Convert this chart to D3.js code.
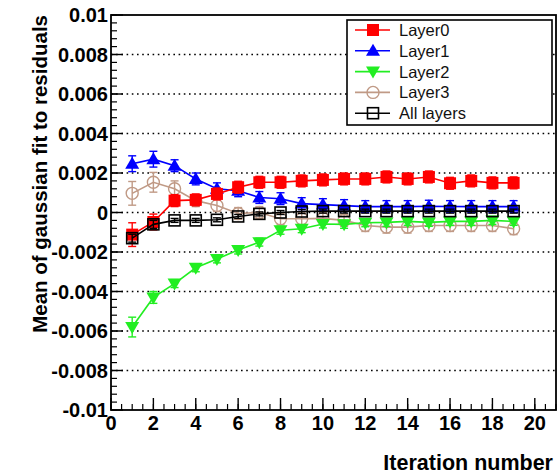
<!DOCTYPE html>
<html>
<head>
<meta charset="utf-8">
<script src="https://cdn.jsdelivr.net/npm/d3@7"></script>
<style>
  body { margin: 0; background: #fff; }
  text { font-family: "Liberation Sans", Arial, sans-serif; }
</style>
</head>
<body>
<svg id="chart" width="560" height="474"></svg>
<script>
// iterations
const iterations = [1,2,3,4,5,6,7,8,9,10,11,12,13,14,15,16,17,18,19];

// mean values per layer
const layer0 = [-0.00112,-0.00048,0.0006,0.00064,0.00094,0.00128,0.00153,0.00153,0.0016,0.00165,0.0017,0.0017,0.0018,0.0017,0.0018,0.00148,0.0016,0.0015,0.0015];
const layer1 = [0.00247,0.0027,0.00237,0.0017,0.0012,0.0011,0.00076,0.0007,0.00045,0.0004,0.00035,0.0003,0.0003,0.0003,0.00032,0.0003,0.0003,0.0003,0.0003];
const layer2 = [-0.0058,-0.0043,-0.0036,-0.0028,-0.00235,-0.0019,-0.0015,-0.0009,-0.00082,-0.00058,-0.0006,-0.00052,-0.0005,-0.00045,-0.0005,-0.00045,-0.00045,-0.0004,-0.00045];
const layer3 = [0.00097,0.00153,0.0012,0.0006,0.00035,-0.00005,0.0,-0.00032,-0.00032,-0.0003,-0.0004,-0.00066,-0.00074,-0.00074,-0.00066,-0.00066,-0.00066,-0.00066,-0.00082];
const allLayers = [-0.0013,-0.0006,-0.0004,-0.0004,-0.00037,-0.0002,-0.00007,0.0,0.00005,0.00007,0.00007,0.00007,0.00007,0.00007,0.00007,0.00007,0.00007,0.00007,0.00007];

// error bars (half widths)
const err0 = [0.0006,0.0004,0.0003,0.0003,0.0003,0.0003,0.0003,0.0003,0.0003,0.0003,0.0003,0.0003,0.0003,0.0003,0.0003,0.0003,0.0003,0.0003,0.0003];
const err1 = [0.0004,0.0004,0.0003,0.0003,0.0003,0.0003,0.0003,0.0003,0.0003,0.0003,0.0003,0.0003,0.0003,0.0003,0.0003,0.0003,0.0003,0.0003,0.0003];
const err2 = [0.0005,0.0003,0.0002,0.0002,0.0002,0.0002,0.0002,0.0002,0.0002,0.0002,0.0002,0.0002,0.0002,0.0002,0.0002,0.0002,0.0002,0.0002,0.0002];
const err3 = [0.0006,0.0005,0.0004,0.0003,0.0003,0.0003,0.0003,0.0003,0.0003,0.0003,0.0003,0.0003,0.0003,0.0003,0.0003,0.0003,0.0003,0.0003,0.0003];
const errAll = [0.0002,0.0002,0.0001,0.0001,0.0001,0.0001,0.0001,0.0001,0.0001,0.0001,0.0001,0.0001,0.0001,0.0001,0.0001,0.0001,0.0001,0.0001,0.0001];

const seriesNames = ['Layer0','Layer1','Layer2','Layer3','All layers'];
const seriesColors = ['#ff0000','#0000ff','#22ee22','#c09a86','#000000'];
const seriesMarkers = ['square','triUp','triDown','circle','openSquare'];

const xTicks = [0,2,4,6,8,10,12,14,16,18,20];
const yTicks = [-0.01,-0.008,-0.006,-0.004,-0.002,0,0.002,0.004,0.006,0.008,0.01];
const yTickLabels = ['-0.01','-0.008','-0.006','-0.004','-0.002','0','0.002','0.004','0.006','0.008','0.01'];

const svg = d3.select('#chart');
const pLeft = 111, pRight = 556, pTop = 15, pBottom = 410;

const x = d3.scaleLinear().domain([0, 21]).range([pLeft, pRight]);
const y = d3.scaleLinear().domain([-0.01, 0.01]).range([pBottom, pTop]);

// dotted grid lines
svg.append('g').selectAll('line')
    .data(yTicks.filter(d => Math.abs(d) < 0.0099))
    .join('line')
    .attr('x1', pLeft).attr('x2', pRight)
    .attr('y1', d => y(d)).attr('y2', d => y(d))
    .attr('stroke', '#000').attr('stroke-width', 1.6)
    .attr('stroke-dasharray', '1.6,3.6');

// minor + major ticks, pointing inward (ROOT style)
const ax = svg.append('g');
const yMinor = d3.range(-0.01, 0.01001, 0.0004);
ax.selectAll('.ymin').data(yMinor).join('line')
    .attr('x1', pLeft).attr('x2', pLeft + 6)
    .attr('y1', d => y(d)).attr('y2', d => y(d))
    .attr('stroke', '#000').attr('stroke-width', 1.2);
ax.selectAll('.ymaj').data(yTicks).join('line')
    .attr('x1', pLeft).attr('x2', pLeft + 12)
    .attr('y1', d => y(d)).attr('y2', d => y(d))
    .attr('stroke', '#000').attr('stroke-width', 1.4);
const xMinor = d3.range(0, 21.01, 0.5);
ax.selectAll('.xmin').data(xMinor).join('line')
    .attr('x1', d => x(d)).attr('x2', d => x(d))
    .attr('y1', pBottom).attr('y2', pBottom - 6)
    .attr('stroke', '#000').attr('stroke-width', 1.2);
ax.selectAll('.xmaj').data(xTicks).join('line')
    .attr('x1', d => x(d)).attr('x2', d => x(d))
    .attr('y1', pBottom).attr('y2', pBottom - 12)
    .attr('stroke', '#000').attr('stroke-width', 1.4);

// frame
svg.append('rect')
    .attr('x', pLeft).attr('y', pTop)
    .attr('width', pRight - pLeft).attr('height', pBottom - pTop)
    .attr('fill', 'none').attr('stroke', '#000').attr('stroke-width', 1.8);

// tick labels
svg.append('g').selectAll('text').data(yTicks).join('text')
    .attr('x', pLeft - 3).attr('y', d => y(d) + 7)
    .attr('text-anchor', 'end')
    .attr('font-size', 20).attr('font-weight', 'bold')
    .text((d, i) => yTickLabels[i]);
svg.append('g').selectAll('text').data(xTicks).join('text')
    .attr('x', d => x(d)).attr('y', pBottom + 20)
    .attr('text-anchor', 'middle')
    .attr('font-size', 20).attr('font-weight', 'bold')
    .text(d => d);

// axis titles
svg.append('text')
    .attr('x', 553).attr('y', 470)
    .attr('text-anchor', 'end')
    .attr('font-size', 21.5).attr('font-weight', 'bold')
    .text('Iteration number');
svg.append('text')
    .attr('transform', 'translate(47,' + pTop + ') rotate(-90)')
    .attr('text-anchor', 'end')
    .attr('font-size', 20.5).attr('font-weight', 'bold')
    .text('Mean of gaussian fit to residuals');

// markers
function drawMarker(g, kind, color, cx, cy) {
    if (kind === 'square') {
        g.append('rect').attr('x', cx - 6).attr('y', cy - 6).attr('width', 12).attr('height', 12).attr('fill', color);
    } else if (kind === 'openSquare') {
        g.append('rect').attr('x', cx - 5.5).attr('y', cy - 5.5).attr('width', 11).attr('height', 11)
            .attr('fill', 'none').attr('stroke', color).attr('stroke-width', 1.6);
    } else if (kind === 'triUp') {
        g.append('path').attr('d', `M${cx},${cy-7}L${cx+7},${cy+5}L${cx-7},${cy+5}Z`).attr('fill', color);
    } else if (kind === 'triDown') {
        g.append('path').attr('d', `M${cx},${cy+7}L${cx+7},${cy-5}L${cx-7},${cy-5}Z`).attr('fill', color);
    } else if (kind === 'circle') {
        g.append('circle').attr('cx', cx).attr('cy', cy).attr('r', 6)
            .attr('fill', 'none').attr('stroke', color).attr('stroke-width', 1.4);
    }
}

const allValues = [layer0, layer1, layer2, layer3, allLayers];
const allErrors = [err0, err1, err2, err3, errAll];
const line = d3.line().x(d => x(d[0])).y(d => y(d[1]));

// draw order: Layer3, Layer2, Layer1, Layer0, All layers on top
[3, 2, 1, 0, 4].forEach(s => {
    const g = svg.append('g');
    const color = seriesColors[s];
    const pts = iterations.map((it, i) => [it, allValues[s][i], allErrors[s][i]]);
    g.append('path').datum(pts).attr('d', line)
        .attr('fill', 'none').attr('stroke', color).attr('stroke-width', 1.6);
    pts.forEach(p => {
        const px = x(p[0]), y1 = y(p[1] + p[2]), y2 = y(p[1] - p[2]);
        g.append('line').attr('x1', px).attr('x2', px).attr('y1', y1).attr('y2', y2)
            .attr('stroke', color).attr('stroke-width', 1.4);
        [y1, y2].forEach(yy => g.append('line').attr('x1', px - 4).attr('x2', px + 4)
            .attr('y1', yy).attr('y2', yy).attr('stroke', color).attr('stroke-width', 1.4));
        drawMarker(g, seriesMarkers[s], color, px, y(p[1]));
    });
});

// legend
const lg = svg.append('g');
lg.append('rect').attr('x', 347).attr('y', 20).attr('width', 205).attr('height', 105)
    .attr('fill', '#fff').attr('stroke', '#000').attr('stroke-width', 1.6);
seriesNames.forEach((name, i) => {
    const ly = 30 + i * 20.8;
    lg.append('line').attr('x1', 355).attr('x2', 390).attr('y1', ly).attr('y2', ly)
        .attr('stroke', seriesColors[i]).attr('stroke-width', 1.6);
    drawMarker(lg, seriesMarkers[i], seriesColors[i], 373, ly);
    lg.append('text').attr('x', 399).attr('y', ly + 6)
        .attr('font-size', 16.5).attr('fill', '#111').text(name);
});
</script>
</body>
</html>
